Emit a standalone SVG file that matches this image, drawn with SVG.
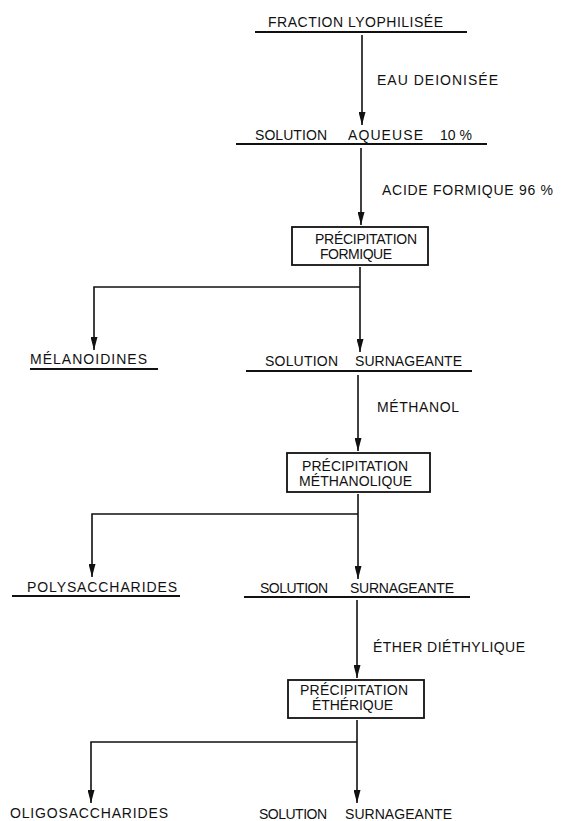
<svg xmlns="http://www.w3.org/2000/svg" width="562" height="821" viewBox="0 0 562 821">
<style>
text{font-family:"Liberation Sans","DejaVu Sans",Arial,sans-serif;font-size:14px;fill:#111;}
.ul{stroke:#111;stroke-width:1.8;fill:none;}
.box{stroke:#111;stroke-width:1.8;fill:#fff;}
.c{stroke:#111;stroke-width:1.6;fill:none;}
.ca{stroke:#111;stroke-width:1.6;fill:none;marker-end:url(#ah);}
</style>
<defs>
<marker id="ah" viewBox="0 0 13 7" refX="13" refY="3.5" markerWidth="13" markerHeight="7" markerUnits="userSpaceOnUse" orient="auto">
<path d="M0,0 L13,3.5 L0,7 z" fill="#111"/>
</marker>
</defs>
<rect width="562" height="821" fill="#fff"/>

<g id="connectors">
<path class="ca" d="M362,35 V125"/>
<path class="ca" d="M361,148 V225"/>
<path class="ca" d="M360,267 V352"/>
<path class="ca" d="M360,287 H94 V350"/>
<path class="ca" d="M358,375 V451"/>
<path class="ca" d="M358,494 V579"/>
<path class="ca" d="M358,514 H92 V577"/>
<path class="ca" d="M357,600 V678"/>
<path class="ca" d="M357,720 V803"/>
<path class="ca" d="M357,742 H91 V803"/>
</g>

<g id="n-fraction">
<text x="268" y="27" textLength="175" lengthAdjust="spacing">FRACTION LYOPHILISÉE</text>
<line class="ul" x1="255" y1="32" x2="467" y2="32"/>
</g>

<g id="l-eau">
<text x="377" y="85" textLength="121" lengthAdjust="spacing">EAU DEIONISÉE</text>
</g>

<g id="n-aqueuse">
<text x="255" y="140" textLength="72" lengthAdjust="spacing">SOLUTION</text>
<text x="348" y="140" textLength="75" lengthAdjust="spacing">AQUEUSE</text>
<text x="440" y="140">10 %</text>
<line class="ul" x1="236" y1="144" x2="487" y2="144"/>
</g>

<g id="l-acide">
<text x="382" y="195" textLength="171" lengthAdjust="spacing">ACIDE FORMIQUE 96 %</text>
</g>

<g id="n-prec-formique">
<rect class="box" x="292" y="227" width="136" height="38"/>
<text x="315" y="244" textLength="102" lengthAdjust="spacing">PRÉCIPITATION</text>
<text x="320" y="259" textLength="72" lengthAdjust="spacing">FORMIQUE</text>
</g>

<g id="n-melanoidines">
<text x="30" y="364" textLength="117" lengthAdjust="spacing">MÉLANOIDINES</text>
<line class="ul" x1="30" y1="369" x2="158" y2="369"/>
</g>

<g id="n-surnageante1">
<text x="265" y="366" textLength="73" lengthAdjust="spacing">SOLUTION</text>
<text x="355" y="366" textLength="107" lengthAdjust="spacing">SURNAGEANTE</text>
<line class="ul" x1="246" y1="371" x2="472" y2="371"/>
</g>

<g id="l-methanol">
<text x="377" y="412" textLength="82" lengthAdjust="spacing">MÉTHANOL</text>
</g>

<g id="n-prec-methanolique">
<rect class="box" x="287" y="453" width="143" height="39"/>
<text x="302" y="471" textLength="106" lengthAdjust="spacing">PRÉCIPITATION</text>
<text x="299" y="486" textLength="113" lengthAdjust="spacing">MÉTHANOLIQUE</text>
</g>

<g id="n-polysaccharides">
<text x="27" y="592" textLength="150" lengthAdjust="spacing">POLYSACCHARIDES</text>
<line class="ul" x1="12" y1="596" x2="180" y2="596"/>
</g>

<g id="n-surnageante2">
<text x="260" y="593" textLength="68" lengthAdjust="spacing">SOLUTION</text>
<text x="350" y="593" textLength="104" lengthAdjust="spacing">SURNAGEANTE</text>
<line class="ul" x1="244" y1="597" x2="470" y2="597"/>
</g>

<g id="l-ether">
<text x="373" y="652" textLength="152" lengthAdjust="spacing">ÉTHER DIÉTHYLIQUE</text>
</g>

<g id="n-prec-etherique">
<rect class="box" x="288" y="680" width="136" height="38"/>
<text x="300" y="695" textLength="108" lengthAdjust="spacing">PRÉCIPITATION</text>
<text x="312" y="710" textLength="81" lengthAdjust="spacing">ÉTHÉRIQUE</text>
</g>

<g id="n-oligosaccharides">
<text x="10" y="818" textLength="158" lengthAdjust="spacing">OLIGOSACCHARIDES</text>
</g>

<g id="n-surnageante3">
<text x="259" y="819" textLength="68" lengthAdjust="spacing">SOLUTION</text>
<text x="345" y="819" textLength="107" lengthAdjust="spacing">SURNAGEANTE</text>
</g>
</svg>
